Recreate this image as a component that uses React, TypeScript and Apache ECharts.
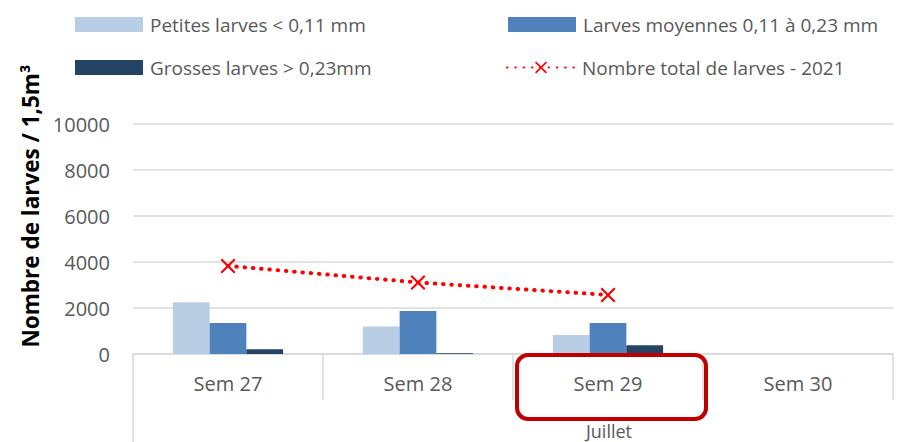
import React, { useEffect, useRef } from 'react';
import * as echarts from 'echarts';

const categories = ['Sem 27', 'Sem 28', 'Sem 29', 'Sem 30'];
const petites = [2250, 1200, 830, null];
const moyennes = [1350, 1870, 1350, null];
const grosses = [210, 30, 380, null];
const total = [3830, 3110, 2570, null];
const seriesNames = [
  'Petites larves < 0,11 mm',
  'Larves moyennes 0,11 à 0,23 mm',
  'Grosses larves > 0,23mm',
  'Nombre total de larves - 2021',
];
const yTitle = 'Nombre de larves / 1,5m³';
const groupLabel = 'Juillet';

const FONT = '"Open Sans", sans-serif';
const GREY = '#595959';
const CROSS = 'path://M1,0 L5,4 L9,0 L10,1 L6,5 L10,9 L9,10 L5,6 L1,10 L0,9 L4,5 L0,1 Z';

export default function App() {
  const ref = useRef<HTMLDivElement>(null);
  useEffect(() => {
    if (!ref.current) return;
    const chart = echarts.init(ref.current, undefined, { renderer: 'svg' });
    const legendBase = {
      itemWidth: 68,
      itemHeight: 15,
      padding: 0,
      itemGap: 0,
      textStyle: { fontSize: 19, color: GREY, fontFamily: FONT, padding: [0, 0, 0, 2] },
    };
    chart.setOption({
      animation: false,
      textStyle: { fontFamily: FONT },
      legend: [
        { ...legendBase, icon: 'rect', data: [seriesNames[0]], left: 75, top: 15 },
        { ...legendBase, icon: 'rect', data: [seriesNames[1]], left: 508, top: 15 },
        { ...legendBase, icon: 'rect', data: [seriesNames[2]], left: 75, top: 58 },
        { ...legendBase, data: [seriesNames[3]], left: 506, top: 58 },
      ],
      grid: { left: 133, right: 25, top: 124, bottom: 88, containLabel: false },
      xAxis: {
        type: 'category',
        data: categories,
        axisLine: { lineStyle: { color: '#D9D9D9', width: 1.5 } },
        axisTick: { show: true, length: 46, interval: 0, lineStyle: { color: '#D9D9D9', width: 1.5 } },
        axisLabel: { color: GREY, fontSize: 20, margin: 19, fontFamily: FONT },
      },
      yAxis: {
        type: 'value',
        min: 0,
        max: 10000,
        interval: 2000,
        axisLine: { show: false },
        axisTick: { show: false },
        splitLine: { lineStyle: { color: '#D9D9D9', width: 1.5 } },
        axisLabel: {
          color: GREY,
          fontSize: 20,
          margin: 23,
          fontFamily: FONT,
          formatter: (v: number) => String(v),
        },
      },
      series: [
        {
          name: seriesNames[0],
          type: 'bar',
          data: petites,
          itemStyle: { color: '#B9CDE5' },
          barGap: '0%',
          barCategoryGap: '42%',
        },
        {
          name: seriesNames[1],
          type: 'bar',
          data: moyennes,
          itemStyle: { color: '#4F81BD' },
          barGap: '0%',
          barCategoryGap: '42%',
        },
        {
          name: seriesNames[2],
          type: 'bar',
          data: grosses,
          itemStyle: { color: '#254365' },
          barGap: '0%',
          barCategoryGap: '42%',
        },
        {
          name: seriesNames[3],
          type: 'line',
          data: total,
          symbol: CROSS,
          symbolSize: 15,
          itemStyle: { color: '#FF0000' },
          lineStyle: { color: '#FF0000', width: 4, type: [0.5, 7.8], cap: 'round' },
          z: 5,
        },
      ],
      graphic: [
        {
          type: 'text',
          x: 30,
          y: 206,
          rotation: Math.PI / 2,
          style: {
            text: yTitle,
            fontSize: 22.5,
            fontWeight: 'bold',
            fill: '#000000',
            fontFamily: FONT,
            align: 'center',
            verticalAlign: 'middle',
          },
        },
        {
          type: 'line',
          shape: { x1: 133, y1: 400, x2: 133, y2: 442 },
          style: { stroke: '#D9D9D9', lineWidth: 1.5 },
        },
        {
          type: 'text',
          x: 609,
          y: 431,
          style: {
            text: groupLabel,
            fontSize: 18,
            fill: GREY,
            fontFamily: FONT,
            align: 'center',
            verticalAlign: 'middle',
          },
        },
        {
          type: 'rect',
          shape: { x: 517, y: 355, width: 189, height: 64, r: 11 },
          style: { fill: 'none', stroke: '#C00000', lineWidth: 4 },
          z: 10,
        },
      ],
    });
    return () => chart.dispose();
  }, []);
  return <div ref={ref} style={{ position: 'absolute', left: 0, top: 0, width: 918, height: 442 }} />;
}
